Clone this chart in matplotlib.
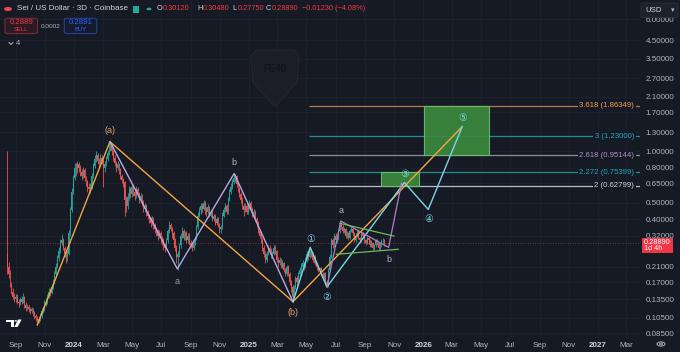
import datetime as dt
import numpy as np
import matplotlib
matplotlib.use('Agg')
import matplotlib.pyplot as plt
import matplotlib.dates as mdates
from matplotlib.patches import Rectangle, Polygon, Circle, FancyBboxPatch
from matplotlib.lines import Line2D
from matplotlib.ticker import FixedLocator, FuncFormatter, NullLocator

plt.rcParams['font.family'] = ['Liberation Sans', 'DejaVu Sans', 'Noto Sans CJK SC']

BG = '#161A25'
UP = '#26A69A'
DN = '#EF5350'
GRID = '#1E222D'
TXT = '#B2B5BE'

# ---------------- data ----------------
first_date = dt.date(2023, 8, 14)
step_days = 3
first_open = 0.25
close = [0.21, 0.19, 0.165, 0.15, 0.14, 0.135, 0.14, 0.13, 0.128, 0.135,
         0.13, 0.14, 0.125, 0.12, 0.122, 0.118, 0.115, 0.118, 0.112, 0.108,
         0.105, 0.10, 0.104, 0.108, 0.115, 0.118, 0.128, 0.13, 0.14, 0.15,
         0.148, 0.16, 0.17, 0.19, 0.21, 0.235, 0.26, 0.29, 0.30, 0.27,
         0.25, 0.235, 0.25, 0.33, 0.45, 0.58, 0.70, 0.80, 0.78, 0.84,
         0.80, 0.76, 0.72, 0.78, 0.70, 0.66, 0.62, 0.60, 0.62, 0.72,
         0.82, 0.90, 0.95, 0.88, 0.84, 0.92, 0.88, 0.80, 0.84, 0.90,
         0.98, 1.05, 1.08, 1.00, 0.92, 0.86, 0.80, 0.84, 0.78, 0.72,
         0.68, 0.66, 0.52, 0.48, 0.54, 0.60, 0.56, 0.62, 0.58, 0.55,
         0.60, 0.57, 0.52, 0.55, 0.50, 0.46, 0.48, 0.44, 0.42, 0.40,
         0.38, 0.40, 0.37, 0.35, 0.34, 0.32, 0.33, 0.31, 0.30, 0.28,
         0.27, 0.30, 0.34, 0.37, 0.35, 0.33, 0.30, 0.27, 0.24, 0.25,
         0.28, 0.32, 0.34, 0.31, 0.33, 0.30, 0.32, 0.29, 0.28, 0.27,
         0.29, 0.31, 0.36, 0.42, 0.45, 0.48, 0.46, 0.50, 0.45, 0.44,
         0.47, 0.42, 0.44, 0.40, 0.42, 0.38, 0.40, 0.37, 0.35, 0.36,
         0.42, 0.45, 0.48, 0.44, 0.52, 0.58, 0.62, 0.66, 0.70, 0.72,
         0.64, 0.60, 0.56, 0.52, 0.48, 0.45, 0.48, 0.44, 0.47, 0.50,
         0.46, 0.42, 0.44, 0.40, 0.38, 0.34, 0.32, 0.30, 0.27, 0.25,
         0.23, 0.25, 0.27, 0.26, 0.24, 0.25, 0.27, 0.26, 0.23, 0.22,
         0.23, 0.21, 0.22, 0.20, 0.19, 0.21, 0.19, 0.17, 0.16, 0.14,
         0.16, 0.18, 0.17, 0.19, 0.20, 0.21, 0.22, 0.21, 0.23, 0.25,
         0.24, 0.26, 0.25, 0.23, 0.24, 0.22, 0.21, 0.20, 0.205, 0.19,
         0.18, 0.19, 0.17, 0.165, 0.20, 0.24, 0.30, 0.28, 0.32, 0.30,
         0.31, 0.34, 0.37, 0.36, 0.34, 0.35, 0.32, 0.33, 0.31, 0.34,
         0.35, 0.33, 0.30, 0.32, 0.34, 0.31, 0.30, 0.33, 0.32, 0.30,
         0.29, 0.31, 0.30, 0.28, 0.29, 0.27, 0.28, 0.30, 0.29, 0.27,
         0.28, 0.30, 0.3012, 0.2889]
high = [1.0, 0.225, 0.20, 0.17, 0.158, 0.148, 0.146, 0.145, 0.136, 0.14,
        0.142, 0.148, 0.142, 0.13, 0.127, 0.125, 0.121, 0.122, 0.12, 0.115,
        0.111, 0.107, 0.108, 0.112, 0.12, 0.124, 0.133, 0.137, 0.146, 0.157,
        0.158, 0.167, 0.178, 0.198, 0.22, 0.245, 0.275, 0.305, 0.325, 0.31,
        0.278, 0.258, 0.262, 0.345, 0.47, 0.61, 0.73, 0.86, 0.85, 0.88,
        0.87, 0.83, 0.79, 0.81, 0.80, 0.72, 0.68, 0.65, 0.65, 0.75,
        0.86, 0.95, 1.0, 0.98, 0.91, 0.96, 0.95, 0.90, 0.88, 0.94,
        1.02, 1.10, 1.14, 1.10, 1.02, 0.95, 0.88, 0.88, 0.86, 0.80,
        0.74, 0.70, 0.67, 0.55, 0.57, 0.63, 0.62, 0.65, 0.64, 0.60,
        0.63, 0.62, 0.58, 0.57, 0.56, 0.52, 0.50, 0.49, 0.45, 0.43,
        0.41, 0.42, 0.41, 0.38, 0.36, 0.35, 0.345, 0.34, 0.32, 0.31,
        0.29, 0.31, 0.35, 0.39, 0.38, 0.36, 0.34, 0.31, 0.28, 0.26,
        0.29, 0.33, 0.36, 0.35, 0.34, 0.34, 0.33, 0.33, 0.30, 0.29,
        0.30, 0.32, 0.37, 0.44, 0.47, 0.50, 0.50, 0.52, 0.51, 0.47,
        0.49, 0.48, 0.46, 0.45, 0.43, 0.43, 0.41, 0.41, 0.38, 0.37,
        0.44, 0.47, 0.50, 0.49, 0.54, 0.60, 0.65, 0.69, 0.74, 0.74,
        0.73, 0.66, 0.62, 0.58, 0.54, 0.50, 0.50, 0.49, 0.49, 0.52,
        0.51, 0.47, 0.46, 0.45, 0.41, 0.39, 0.35, 0.33, 0.31, 0.28,
        0.26, 0.26, 0.28, 0.28, 0.27, 0.26, 0.28, 0.28, 0.265, 0.24,
        0.24, 0.235, 0.23, 0.225, 0.205, 0.215, 0.215, 0.195, 0.175, 0.165,
        0.165, 0.185, 0.185, 0.195, 0.21, 0.22, 0.23, 0.225, 0.24, 0.26,
        0.26, 0.275, 0.265, 0.255, 0.245, 0.245, 0.225, 0.215, 0.21, 0.21,
        0.195, 0.195, 0.195, 0.175, 0.205, 0.25, 0.31, 0.31, 0.33, 0.33,
        0.32, 0.35, 0.39, 0.385, 0.37, 0.36, 0.355, 0.34, 0.335, 0.35,
        0.36, 0.355, 0.335, 0.33, 0.35, 0.345, 0.315, 0.34, 0.335, 0.325,
        0.305, 0.32, 0.32, 0.305, 0.30, 0.295, 0.285, 0.305, 0.305, 0.295,
        0.29, 0.305, 0.31, 0.3048]
low = [0.19, 0.18, 0.16, 0.145, 0.135, 0.13, 0.13, 0.126, 0.122, 0.125,
       0.127, 0.128, 0.12, 0.116, 0.117, 0.114, 0.111, 0.112, 0.108, 0.104,
       0.10, 0.095, 0.098, 0.101, 0.105, 0.112, 0.115, 0.124, 0.127, 0.137,
       0.142, 0.145, 0.156, 0.166, 0.185, 0.205, 0.228, 0.252, 0.28, 0.262,
       0.24, 0.222, 0.228, 0.245, 0.32, 0.44, 0.56, 0.68, 0.72, 0.75,
       0.76, 0.72, 0.68, 0.70, 0.67, 0.63, 0.58, 0.56, 0.57, 0.60,
       0.70, 0.80, 0.87, 0.85, 0.80, 0.82, 0.84, 0.62, 0.76, 0.82,
       0.88, 0.95, 1.0, 0.95, 0.88, 0.82, 0.76, 0.78, 0.74, 0.69,
       0.65, 0.62, 0.42, 0.44, 0.46, 0.52, 0.53, 0.54, 0.55, 0.52,
       0.53, 0.54, 0.50, 0.50, 0.48, 0.44, 0.44, 0.42, 0.40, 0.38,
       0.36, 0.37, 0.35, 0.33, 0.32, 0.30, 0.31, 0.29, 0.28, 0.265,
       0.255, 0.265, 0.29, 0.33, 0.34, 0.31, 0.29, 0.26, 0.22, 0.20,
       0.24, 0.27, 0.31, 0.30, 0.30, 0.29, 0.29, 0.28, 0.27, 0.26,
       0.265, 0.28, 0.30, 0.35, 0.41, 0.43, 0.44, 0.45, 0.43, 0.42,
       0.43, 0.41, 0.41, 0.39, 0.39, 0.37, 0.37, 0.36, 0.33, 0.33,
       0.35, 0.41, 0.44, 0.43, 0.43, 0.51, 0.56, 0.60, 0.64, 0.66,
       0.62, 0.58, 0.54, 0.50, 0.46, 0.42, 0.44, 0.43, 0.43, 0.46,
       0.45, 0.41, 0.41, 0.39, 0.36, 0.33, 0.31, 0.29, 0.26, 0.24,
       0.22, 0.225, 0.245, 0.25, 0.235, 0.235, 0.245, 0.25, 0.225, 0.21,
       0.215, 0.205, 0.205, 0.195, 0.185, 0.185, 0.185, 0.165, 0.15, 0.13,
       0.138, 0.155, 0.165, 0.165, 0.185, 0.195, 0.205, 0.20, 0.205, 0.225,
       0.23, 0.235, 0.24, 0.225, 0.22, 0.215, 0.20, 0.195, 0.195, 0.185,
       0.175, 0.175, 0.165, 0.16, 0.16, 0.195, 0.235, 0.27, 0.275, 0.29,
       0.29, 0.30, 0.33, 0.35, 0.33, 0.33, 0.31, 0.31, 0.30, 0.305,
       0.335, 0.32, 0.295, 0.295, 0.315, 0.305, 0.29, 0.295, 0.31, 0.29,
       0.28, 0.285, 0.29, 0.275, 0.275, 0.265, 0.265, 0.275, 0.28, 0.265,
       0.265, 0.275, 0.29, 0.2775]

last_price = 0.2889

y_ticks = [6.0, 4.5, 3.5, 2.7, 2.1, 1.7, 1.3, 1.0, 0.8, 0.65, 0.5, 0.4, 0.32,
           0.21, 0.17, 0.135, 0.105, 0.085]
x_tick_dates = ['2023-09-01', '2023-11-01', '2024-01-01', '2024-03-01', '2024-05-01',
                '2024-07-01', '2024-09-01', '2024-11-01', '2025-01-01', '2025-03-01',
                '2025-05-01', '2025-07-01', '2025-09-01', '2025-11-01', '2026-01-01',
                '2026-03-01', '2026-05-01', '2026-07-01', '2026-09-01', '2026-11-01',
                '2027-01-01', '2027-03-01']
x_tick_labels = ['Sep', 'Nov', '2024', 'Mar', 'May', 'Jul', 'Sep', 'Nov', '2025', 'Mar',
                 'May', 'Jul', 'Sep', 'Nov', '2026', 'Mar', 'May', 'Jul', 'Sep', 'Nov',
                 '2027', 'Mar']

# Elliott wave drawings (date, price)
primary_dates = ['2023-10-16', '2024-03-16', '2025-04-03', '2026-03-23']
primary_prices = [0.0954, 1.142, 0.1307, 1.40]
corr_dates = ['2024-03-16', '2024-08-04', '2024-12-01', '2025-04-03']
corr_prices = [1.142, 0.204, 0.742, 0.1307]
impulse_dates = ['2025-04-03', '2025-05-09', '2025-06-13', '2025-11-22', '2026-01-11', '2026-03-23']
impulse_prices = [0.1307, 0.273, 0.1596, 0.657, 0.456, 1.40]
minor_dates = ['2025-06-13', '2025-07-12', '2025-10-20', '2025-11-16']
minor_prices = [0.1596, 0.390, 0.2727, 0.650]
tri_upper_dates = ['2025-07-10', '2025-10-31']
tri_upper_prices = [0.378, 0.318]
tri_lower_dates = ['2025-07-03', '2025-11-09']
tri_lower_prices = [0.2485, 0.266]

fib_ratios = ['3.618', '3', '2.618', '2.272', '2']
fib_prices = [1.86349, 1.23000, 0.95144, 0.75399, 0.62799]
fib_start = '2025-05-07'
fib_line_colors = ['#B27A45', '#1F8F96', '#8E8E9A', '#1F8F96', '#B8BBC2']
fib_text_colors = ['#F0A04B', '#22A7B4', '#B48CCB', '#22A7B4', '#D1D4DC']

box_big = ('2026-01-02', '2026-05-19', 0.95144, 1.86349)
box_small = ('2025-10-05', '2025-12-23', 0.62799, 0.75399)


def D(s):
    return mdates.date2num(dt.datetime.strptime(s, '%Y-%m-%d'))


# ---------------- figure ----------------
W, H = 680, 352
fig = plt.figure(figsize=(W / 100, H / 100), dpi=100, facecolor=BG)
ax = fig.add_axes([0, 14 / H, 640 / W, 338 / H], facecolor=BG)
ax.set_yscale('log')
ax.set_ylim(0.07994, 7.783)
ax.set_xlim(D('2023-07-30'), D('2027-03-30'))

# grid
ax.yaxis.set_major_locator(FixedLocator(y_ticks))
ax.yaxis.set_minor_locator(NullLocator())
ax.yaxis.set_major_formatter(FuncFormatter(lambda v, p: f'{v:.5f}'))
ax.set_xticks([D(s) for s in x_tick_dates])
ax.set_xticklabels(x_tick_labels)
ax.grid(True, color=GRID, lw=0.6, zorder=0)
ax.set_axisbelow(True)
ax.yaxis.tick_right()
ax.tick_params(axis='y', length=0, pad=4, labelsize=5.8, labelcolor=TXT)
ax.tick_params(axis='x', length=0, pad=3, labelsize=5.8, labelcolor=TXT)
for lbl in ax.get_xticklabels():
    if lbl.get_text().isdigit():
        lbl.set_color('#D1D4DC')
        lbl.set_fontweight('bold')
for s in ax.spines.values():
    s.set_visible(False)

# candles
n = min(len(close), len(high), len(low))
dates = np.array([mdates.date2num(first_date + dt.timedelta(days=step_days * i)) for i in range(n)])
c = np.array(close[:n])
o = np.array([first_open] + close[:n - 1])
hi = np.array(high[:n])
lo = np.array(low[:n])
cols = np.where(c >= o, UP, DN)
ax.vlines(dates, lo, hi, colors=cols, lw=0.6, zorder=3)
ax.bar(dates, np.maximum(np.abs(c - o), 0.002), bottom=np.minimum(o, c), width=1.9,
       color=cols, linewidth=0, zorder=3)

# current price line
ax.axhline(last_price, color='#F23645', lw=0.6, ls=(0, (1, 2)), alpha=0.7, zorder=2)

# fib levels
xr = ax.get_xlim()[1]
for r, p, lc, tc in zip(fib_ratios, fib_prices, fib_line_colors, fib_text_colors):
    ax.hlines(p, D(fib_start), xr, colors=lc, lw=0.9, zorder=2)
    ax.text(0.991, p, f'{r} ({p:.5f})', transform=ax.get_yaxis_transform(), ha='right',
            va='center', fontsize=5.6, color=tc, zorder=6,
            bbox=dict(facecolor=BG, edgecolor='none', pad=1.0))

# boxes
for (d0, d1, p0, p1) in (box_big, box_small):
    ax.add_patch(Rectangle((D(d0), p0), D(d1) - D(d0), p1 - p0, facecolor='#3B8C3F',
                           edgecolor='#6FBF6F', lw=0.8, alpha=0.9, zorder=4))

# wave lines
ORANGE = '#F5A542'
CYAN = '#7AD6E4'
LAV = '#B9A8E0'
PURP = '#B47CC8'
GREEN = '#6DBA5A'
ax.plot([D(s) for s in primary_dates], primary_prices, color=ORANGE, lw=1.0, zorder=5)
ax.plot([D(s) for s in corr_dates], corr_prices, color=LAV, lw=1.0, zorder=5)
ax.plot([D(s) for s in impulse_dates], impulse_prices, color=CYAN, lw=1.0, zorder=5)
ax.plot([D(s) for s in minor_dates], minor_prices, color=PURP, lw=0.9, zorder=5)
ax.plot([D(s) for s in tri_upper_dates], tri_upper_prices, color=GREEN, lw=0.9, zorder=5)
ax.plot([D(s) for s in tri_lower_dates], tri_lower_prices, color=GREEN, lw=0.9, zorder=5)


def lab(txt, d, p, dy, color, fs=6.5):
    ax.annotate(txt, (D(d), p), xytext=(0, dy), textcoords='offset pixels', ha='center',
                va='center', fontsize=fs, color=color, zorder=7)


lab('(a)', primary_dates[1], primary_prices[1], 11, '#E8A05C')
lab('(b)', primary_dates[2], primary_prices[2], -11, '#E8A05C')
lab('a', corr_dates[1], corr_prices[1], -13, '#9598A1')
lab('b', corr_dates[2], corr_prices[2], 11, '#B2B5BE')
for k, sym in zip(range(1, 6), ['\u2460', '\u2461', '\u2462', '\u2463', '\u2464']):
    dy = 8.5 if k % 2 == 1 else -10
    lab(sym, impulse_dates[k], impulse_prices[k], dy, CYAN, fs=7)
lab('a', minor_dates[1], minor_prices[1], 10, '#B2B5BE')
lab('b', minor_dates[2], minor_prices[2], -12, '#B9A8E0')


# ---------------- overlay (figure pixel coords) ----------------
def fx(x):
    return x / W


def fy(y):
    return 1 - y / H


def ftext(x, y, s, **kw):
    kw.setdefault('va', 'center')
    kw.setdefault('ha', 'left')
    fig.text(fx(x), fy(y), s, **kw)


def frect(x0, y0, x1, y1, **kw):
    fig.patches.append(FancyBboxPatch((fx(x0), fy(y1)), fx(x1) - fx(x0), fy(y0) - fy(y1),
                                      boxstyle='round,pad=0,rounding_size=0.004',
                                      transform=fig.transFigure, figure=fig, **kw))


# current price tag on the price scale
fig.patches.append(Rectangle((fx(641.5), fy(253)), fx(673.3) - fx(641.5), fy(238.3) - fy(253),
                             facecolor='#F23645', edgecolor='none', transform=fig.transFigure,
                             figure=fig, zorder=5))
ftext(644, 242.3, '0.28890', fontsize=5.3, color='white', zorder=6)
ftext(644, 249, '1d 4h', fontsize=5.2, color='white', zorder=6)

# watermark shield
shield = [(256, 50), (294, 50), (299, 56), (297, 82), (275, 107), (253, 82), (251, 56)]
fig.patches.append(Polygon([(fx(x), fy(y)) for x, y in shield], closed=True, facecolor='#1B1E28',
                           edgecolor='#232731', lw=0.8, transform=fig.transFigure, figure=fig,
                           zorder=1))
ftext(275.5, 69, 'FE40', ha='center', fontsize=7, fontweight='bold', color='#12141B')

# header
fig.patches.append(Circle((fx(8), fy(9)), 4 / W, facecolor='#E5484D', edgecolor='none',
                          transform=fig.transFigure, figure=fig))
ftext(17, 9, 'Sei / US Dollar \u00b7 3D \u00b7 Coinbase', fontsize=5.8, color='#D1D4DC')
fig.patches.append(Rectangle((fx(133), fy(12.5)), 6 / W, 6 / H, facecolor='#22AB94',
                             edgecolor='none', transform=fig.transFigure, figure=fig))
fig.patches.append(Circle((fx(149), fy(9)), 2.5 / W, facecolor='#22AB94', edgecolor='none',
                          transform=fig.transFigure, figure=fig))
RED = '#F23645'
for x, lbl_, val in [(157, 'O', '0.30120'), (197.5, 'H', '0.30480'), (232, 'L', '0.27750'),
                     (266, 'C', '0.28890')]:
    ftext(x, 9, lbl_, fontsize=5.3, color='#D1D4DC')
    ftext(x + 5.3, 9, val, fontsize=5.3, color=RED)
ftext(301.5, 9, '\u22120.01230 (\u22124.08%)', fontsize=5.3, color=RED)

# sell / buy
frect(5, 18.3, 37.5, 33.5, facecolor='#2A1A22', edgecolor='#7A2A33', lw=0.8)
ftext(21.3, 23, '0.2889', ha='center', fontsize=5.6, color=RED)
ftext(21.3, 29.3, 'SELL', ha='center', fontsize=4.2, color=RED)
ftext(51, 26, '0.0002', ha='center', fontsize=4.6, color=TXT)
frect(64.3, 18.3, 96.7, 33.5, facecolor='#161C30', edgecolor='#27408F', lw=0.8)
ftext(80.5, 23, '0.2891', ha='center', fontsize=5.6, color='#2962FF')
ftext(80.5, 29.3, 'BUY', ha='center', fontsize=4.2, color='#2962FF')

# collapse indicator
fig.lines.append(Line2D([fx(9), fx(11), fx(13)], [fy(42.5), fy(44.5), fy(42.5)], color=TXT,
                        lw=0.7, transform=fig.transFigure, figure=fig))
ftext(15.5, 43.5, '4', fontsize=5.6, color=TXT)

# USD selector
frect(641, 3, 678, 17.5, facecolor='#1E222D', edgecolor='#2A2E39', lw=0.6)
ftext(645, 10, 'USD', fontsize=5.6, color='#D1D4DC')
ftext(671, 10, '\u25be', fontsize=5, color=TXT, family=['DejaVu Sans'])

# TradingView logo
fig.patches.append(Polygon([(fx(x), fy(y)) for x, y in
                            [(6, 319.5), (13.5, 319.5), (13.5, 327), (10.6, 327), (10.6, 322.2),
                             (6, 322.2)]], closed=True, facecolor='white', edgecolor='none',
                           transform=fig.transFigure, figure=fig))
fig.patches.append(Circle((fx(15.8), fy(320.9)), 1.4 / W, facecolor='white', edgecolor='none',
                          transform=fig.transFigure, figure=fig))
fig.patches.append(Polygon([(fx(x), fy(y)) for x, y in
                            [(18.2, 319.5), (21.6, 319.5), (17.6, 327), (14.3, 327)]],
                           closed=True, facecolor='white', edgecolor='none',
                           transform=fig.transFigure, figure=fig))

# settings gear
fig.patches.append(Circle((fx(661), fy(344)), 4 / W, facecolor='none', edgecolor=TXT, lw=0.7,
                          transform=fig.transFigure, figure=fig))
fig.patches.append(Circle((fx(661), fy(344)), 1.5 / W, facecolor='none', edgecolor=TXT, lw=0.6,
                          transform=fig.transFigure, figure=fig))

fig.savefig('out.png', dpi=100, facecolor=BG)
